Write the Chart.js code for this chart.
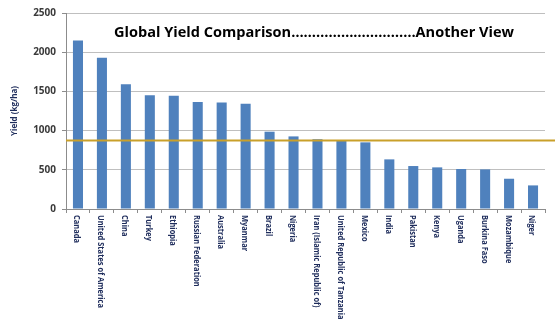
<!DOCTYPE html>
<html>
<head>
<meta charset="utf-8">
<script src="https://cdn.jsdelivr.net/npm/chart.js@4.4.1/dist/chart.umd.min.js"></script>
<style>
  html, body { margin: 0; padding: 0; background: #ffffff; }
  #c { display: block; }
</style>
</head>
<body>
<canvas id="c" width="555" height="321"></canvas>
<script>
const categories = [
  "Canada", "United States of America", "China", "Turkey", "Ethiopia",
  "Russian Federation", "Australia", "Myanmar", "Brazil", "Nigeria",
  "Iran (Islamic Republic of)", "United Republic of Tanzania", "Mexico", "India",
  "Pakistan", "Kenya", "Uganda", "Burkina Faso", "Mozambique", "Niger"
];
const yieldValues = [
  2150, 1930, 1590, 1450, 1445,
  1365, 1358, 1343, 986, 926,
  890, 867, 850, 633,
  548, 531, 510, 505, 386, 301
];
const referenceYield = 882;
const yTicks = [0, 500, 1000, 1500, 2000, 2500];
const chartTitle = "Global Yield Comparison\u2026\u2026\u2026\u2026\u2026\u2026\u2026\u2026\u2026\u2026Another View";
const yAxisTitle = "Yield (kg/ha)";

const overlayPlugin = {
  id: 'overlay',
  afterDatasetsDraw(chart) {
    const ctx = chart.ctx;
    const y = chart.scales.y;
    const area = chart.chartArea;
    ctx.save();
    const ly = Math.round(y.getPixelForValue(referenceYield)) + 0.5;
    ctx.strokeStyle = '#C9A02A';
    ctx.lineWidth = 2;
    ctx.beginPath();
    ctx.moveTo(area.left, ly);
    ctx.lineTo(chart.width, ly);
    ctx.stroke();
    ctx.fillStyle = '#000000';
    ctx.font = 'bold 15px "Open Sans", sans-serif';
    ctx.textAlign = 'center';
    ctx.textBaseline = 'middle';
    const tw = ctx.measureText(chartTitle).width;
    ctx.fillText(chartTitle, 314, 33, Math.min(tw, 400));
    ctx.restore();
  },
  afterDraw(chart) {
    const ctx = chart.ctx;
    const x = chart.scales.x;
    const area = chart.chartArea;
    ctx.save();
    ctx.fillStyle = '#1F2D5C';
    ctx.font = 'bold 9px "Open Sans", sans-serif';
    ctx.textAlign = 'left';
    ctx.textBaseline = 'middle';
    const ref = ctx.measureText("United States of America").width;
    const k = 93 / ref;
    categories.forEach((lab, i) => {
      const px = x.getPixelForValue(i);
      ctx.save();
      ctx.translate(px - 1, area.bottom + 6);
      ctx.rotate(Math.PI / 2);
      const w = ctx.measureText(lab).width;
      ctx.fillText(lab, 0, 0, w * k);
      ctx.restore();
    });
    ctx.restore();
  }
};

new Chart(document.getElementById('c'), {
  type: 'bar',
  data: {
    labels: categories,
    datasets: [{
      data: yieldValues,
      backgroundColor: '#4F81BD',
      borderWidth: 0,
      barPercentage: 0.84,
      categoryPercentage: 0.5
    }]
  },
  options: {
    responsive: false,
    animation: false,
    devicePixelRatio: 1,
    layout: { padding: { left: 0, right: 10, top: 13, bottom: 0 } },
    plugins: { legend: { display: false }, tooltip: { enabled: false }, title: { display: false } },
    scales: {
      x: {
        afterFit(s) { s.height = 112; },
        ticks: { display: false },
        grid: { display: true, offset: true, drawOnChartArea: false, drawTicks: true, tickLength: 4, color: '#8C8C8C' },
        border: { display: true, color: '#8C8C8C', width: 1 }
      },
      y: {
        min: 0, max: 2500,
        afterFit(s) { s.width = 66; },
        afterBuildTicks(s) { s.ticks = yTicks.map(v => ({ value: v })); },
        ticks: {
          color: '#3A3A3A',
          font: { family: '"Open Sans", sans-serif', size: 10, weight: 'bold' },
          padding: 6,
          callback: (v) => String(v)
        },
        grid: { color: '#BFBFBF', lineWidth: 1, tickLength: 4, tickColor: '#8C8C8C' },
        border: { display: true, color: '#8C8C8C', width: 1 },
        title: {
          display: true,
          text: yAxisTitle,
          color: '#1F2D5C',
          font: { family: '"Open Sans", sans-serif', size: 8, weight: 'bold' },
          padding: { top: 10, bottom: 0 }
        }
      }
    }
  },
  plugins: [overlayPlugin]
});
</script>
</body>
</html>
